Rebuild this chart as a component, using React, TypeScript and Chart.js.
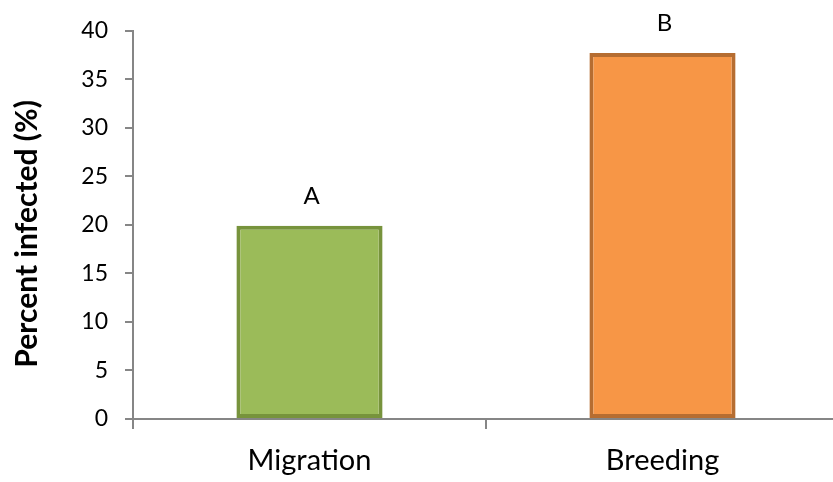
import React, { useEffect, useRef } from "react";
import { Chart, registerables } from "chart.js";

Chart.register(...registerables);

const categories = ["Migration", "Breeding"];
const percentInfected = [19.9, 37.7];
const significanceLetters = ["A", "B"];
const yAxisTitle = "Percent infected (%)";
const yTicksMax = 40;
const yTicksStep = 5;

const FONT = "Lato, 'Open Sans', 'DejaVu Sans', sans-serif";

const letterPlugin = {
  id: "letters",
  afterDatasetsDraw(chart: any) {
    const ctx = chart.ctx;
    const meta = chart.getDatasetMeta(0);
    ctx.save();
    ctx.font = `24px ${FONT}`;
    ctx.fillStyle = "#000";
    ctx.textAlign = "center";
    ctx.textBaseline = "middle";
    meta.data.forEach((bar: any, i: number) => {
      ctx.fillText(significanceLetters[i], bar.x + 2, bar.y - 30);
    });
    // y-axis title
    const area = chart.chartArea;
    ctx.font = `bold 30px ${FONT}`;
    ctx.translate(27, (area.top + area.bottom) / 2 + 9);
    ctx.rotate(-Math.PI / 2);
    ctx.fillText(yAxisTitle, 0, 0);
    ctx.restore();
  },
};

export default function App() {
  const ref = useRef<HTMLCanvasElement | null>(null);
  useEffect(() => {
    if (!ref.current) return;
    const chart = new Chart(ref.current, {
      type: "bar",
      data: {
        labels: categories,
        datasets: [
          {
            data: percentInfected,
            backgroundColor: ["#9BBB59", "#F79646"],
            borderColor: ["#77933C", "#B66D31"],
            borderWidth: 4,
            borderSkipped: false,
            categoryPercentage: 1,
            barPercentage: 0.414,
          },
        ],
      },
      options: {
        animation: false,
        responsive: false,
        devicePixelRatio: 1,
        layout: { padding: { top: 28, right: 0, bottom: 0, left: 0 } },
        plugins: { legend: { display: false }, tooltip: { enabled: false } },
        scales: {
          x: {
            type: "category",
            offset: true,
            z: 1,
            afterFit: (s: any) => {
              s.height = 63;
            },
            grid: {
              offset: true,
              drawOnChartArea: false,
              drawTicks: true,
              tickLength: 10,
              color: "#868686",
              lineWidth: 2,
            },
            border: { display: true, color: "#868686", width: 2 },
            ticks: {
              font: { family: FONT, size: 29 },
              color: "#000",
              padding: 14,
            },
          },
          y: {
            min: 0,
            max: yTicksMax,
            afterFit: (s: any) => {
              s.width = 133;
            },
            ticks: {
              stepSize: yTicksStep,
              font: { family: FONT, size: 23 },
              color: "#000",
              padding: 17,
            },
            grid: {
              drawOnChartArea: false,
              drawTicks: true,
              tickLength: 8,
              color: "#868686",
              lineWidth: 2,
            },
            border: { display: true, color: "#868686", width: 2 },
          },
        },
      },
      plugins: [letterPlugin],
    });
    return () => chart.destroy();
  }, []);
  return (
    <div
      style={{
        position: "absolute",
        left: 0,
        top: 0,
        width: 833,
        height: 482,
        overflow: "hidden",
        background: "#fff",
      }}
    >
      <canvas ref={ref} width={839} height={482} style={{ width: 839, height: 482, display: "block" }} />
    </div>
  );
}
